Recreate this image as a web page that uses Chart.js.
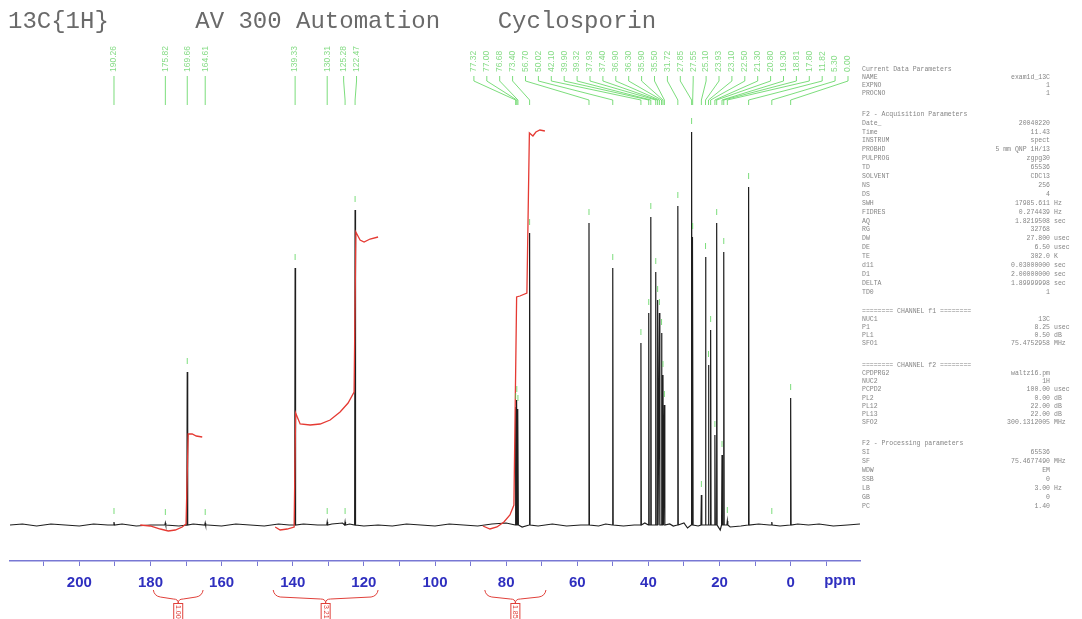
<!DOCTYPE html>
<html>
<head>
<meta charset="utf-8">
<script src="https://cdn.jsdelivr.net/npm/chart.js@4.4.1/dist/chart.umd.min.js"></script>
<style>
html,body{margin:0;padding:0;background:#fff;overflow:hidden}
#wrap{position:relative;width:1082px;height:619px;background:#fff}
</style>
</head>
<body>
<div id="wrap"><canvas id="c" width="1082" height="619"></canvas></div>
<script>
// ---------------- data ----------------
const titleText = '13C{1H}      AV 300 Automation    Cyclosporin';
const tickLabels = [200, 180, 160, 140, 120, 100, 80, 60, 40, 20, 0];

// picked peaks (ppm) and their heights (arbitrary intensity units)
const peakPpm = [190.26, 175.82, 169.66, 164.61, 139.33, 130.31, 125.28, 122.47,
  77.32, 77.00, 76.68, 73.40, 56.70, 50.02, 42.10, 39.90, 39.32, 37.93, 37.40, 36.90,
  36.30, 35.90, 35.50, 31.72, 27.85, 27.55, 25.10, 23.93, 23.10, 22.50, 21.30, 20.80,
  19.30, 18.81, 17.80, 11.82, 5.30, 0.00];
const peakHeight = [3, 2, 153, 2, 257, 3, 3, 315,
  118, 125, 116, 292, 302, 257, 182, 212, 308, 253, 225, 212,
  192, 150, 120, 319, 393, 288, 30, 268, 160, 195, 90, 302,
  70, 273, 4, 338, 3, 127];

// baseline (noise)
const baselinePpm = [219.5, 216, 212, 208, 204, 200, 196, 192, 188, 184, 180, 176, 172, 168, 164, 160,
  156, 152, 148, 144, 141, 137, 133, 129, 126, 124, 120, 116, 112, 108, 104, 100, 96, 92, 88, 84, 80,
  75.5, 71, 67, 63, 59, 54, 52, 47, 44, 41, 34, 33, 30, 29, 26, 25, 19.8, 17, 14, 9, 6, 3, -2, -5, -8,
  -12, -16, -19.5];
const baselineVal = [0, 1, -1, 1, 0, -1, 1, 0, 1, -1, 0, 1, -1, 1, 0, -1,
  1, 0, -1, 1, 0, 1, 0, 1, 2, 1, -1, 0, -1, 1, 0, -1, 1, 0, -1, 1, 2,
  -2, -1, 1, -1, 0, -1, 1, -1, 0, 2, 1, -1, 2, -3, -1, -4, -5, -2, -1, 1, 0, -1, 1, 0, 1,
  -1, 0, 1];

// integral curves
const int1Ppm = [182.87, 180.06, 177.25, 175.0, 173.03, 171.07, 170.0, 169.4, 168.26, 167.13, 165.45];
const int1Val = [0, -1, -4, -6, -5, -2, 1, 91, 91, 89, 88];
const int2Ppm = [144.94, 143.54, 141.57, 139.61, 139.19, 137.92, 135.11, 132.30, 129.49, 126.69, 124.44, 122.75, 122.25, 121.07, 119.94, 118.26, 116.01];
const int2Val = [-2, -5, -4, -2, 112, 101, 100, 101, 105, 113, 122, 133, 293, 285, 283, 286, 288];
const int3Ppm = [86.52, 84.55, 82.58, 80.62, 78.93, 77.81, 77.05, 76.12, 74.16, 73.46, 72.47, 71.63, 70.51, 69.10];
const int3Val = [-1, -4, -2, 3, 10, 20, 228, 229, 232, 392, 389, 393, 395, 394];

// integral brackets (ppm ranges) and values
const bracketFrom = [179.2, 145.5, 86.0];
const bracketTo = [165.2, 116.0, 68.8];
const integralLabels = ['1.00', '3.21', '1.85'];

// acquisition / processing parameter listing
const paramCurrent = [['Current Data Parameters', '', ''], ['NAME', 'exam1d_13C', ''], ['EXPNO', '1', ''], ['PROCNO', '1', '']];
const paramAcq = [['F2 - Acquisition Parameters', '', ''], ['Date_', '20040220', ''], ['Time', '11.43', ''],
  ['INSTRUM', 'spect', ''], ['PROBHD', '5 mm QNP 1H/13', ''], ['PULPROG', 'zgpg30', ''], ['TD', '65536', ''],
  ['SOLVENT', 'CDCl3', ''], ['NS', '256', ''], ['DS', '4', ''], ['SWH', '17985.611', 'Hz'],
  ['FIDRES', '0.274439', 'Hz'], ['AQ', '1.8219508', 'sec'], ['RG', '32768', ''], ['DW', '27.800', 'usec'],
  ['DE', '6.50', 'usec'], ['TE', '302.0', 'K'], ['d11', '0.03000000', 'sec'], ['D1', '2.00000000', 'sec'],
  ['DELTA', '1.89999998', 'sec'], ['TD0', '1', '']];
const paramF1 = [['======== CHANNEL f1 ========', '', ''], ['NUC1', '13C', ''], ['P1', '8.25', 'usec'],
  ['PL1', '0.50', 'dB'], ['SFO1', '75.4752958', 'MHz']];
const paramF2 = [['======== CHANNEL f2 ========', '', ''], ['CPDPRG2', 'waltz16.pm', ''], ['NUC2', '1H', ''],
  ['PCPD2', '100.00', 'usec'], ['PL2', '0.00', 'dB'], ['PL12', '22.00', 'dB'], ['PL13', '22.00', 'dB'],
  ['SFO2', '300.1312005', 'MHz']];
const paramProc = [['F2 - Processing parameters', '', ''], ['SI', '65536', ''], ['SF', '75.4677490', 'MHz'],
  ['WDW', 'EM', ''], ['SSB', '0', ''], ['LB', '3.00', 'Hz'], ['GB', '0', ''], ['PC', '1.40', '']];

// ---------------- build tables ----------------
const spectrum = [];
baselinePpm.forEach((p, i) => {
  if (peakPpm.every(q => Math.abs(q - p) > 0.4)) spectrum.push({x: p, y: baselineVal[i]});
});
peakPpm.forEach((p, i) => {
  spectrum.push({x: p + 0.12, y: 0}, {x: p, y: peakHeight[i]}, {x: p - 0.12, y: 0});
});
spectrum.sort((a, b) => b.x - a.x);
const pairs = (xs, ys) => xs.map((x, i) => ({x: x, y: ys[i]}));

// ---------------- extra drawing ----------------
const extras = {
  id: 'extras',
  afterDraw(chart) {
    const ctx = chart.ctx, xs = chart.scales.x, ys = chart.scales.y, ca = chart.chartArea;
    ctx.save();
    // title
    ctx.font = '24px "Liberation Mono", monospace';
    ctx.fillStyle = '#6a6a6a';
    ctx.textAlign = 'left';
    ctx.textBaseline = 'alphabetic';
    ctx.fillText(titleText, 8, 28);

    // peak labels
    const pk = peakPpm.map((p, i) => ({p: p, h: peakHeight[i], x: xs.getPixelForValue(p)})).sort((a, b) => a.x - b.x);
    const S = 12.9;
    const groups = pk.map(o => ({items: [o]}));
    const place = g => {
      const m = g.items.reduce((s, o) => s + o.x, 0) / g.items.length;
      g.start = m - (g.items.length - 1) * S / 2;
      g.end = g.start + (g.items.length - 1) * S;
    };
    groups.forEach(place);
    let merged = true;
    while (merged) {
      merged = false;
      for (let i = 0; i < groups.length - 1; i++) {
        if (groups[i + 1].start - groups[i].end < S) {
          groups[i].items = groups[i].items.concat(groups[i + 1].items);
          groups.splice(i + 1, 1);
          place(groups[i]);
          merged = true;
          break;
        }
      }
    }
    const last = groups[groups.length - 1];
    const lim = ca.right - 12;
    if (last.end > lim) { const d = last.end - lim; last.start -= d; last.end -= d; }
    groups.forEach(g => g.items.forEach((o, k) => { o.lx = g.start + k * S; }));

    ctx.strokeStyle = 'rgba(80,210,80,0.75)';
    ctx.lineWidth = 1;
    ctx.fillStyle = '#86dc86';
    ctx.font = '8.5px "Liberation Sans", sans-serif';
    pk.forEach(o => {
      ctx.beginPath();
      ctx.moveTo(o.lx, 76);
      ctx.lineTo(o.lx, 81);
      ctx.lineTo(o.x, 100);
      ctx.lineTo(o.x, 105);
      ctx.stroke();
      ctx.save();
      ctx.translate(o.lx, 72);
      ctx.rotate(-Math.PI / 2);
      ctx.textAlign = 'left';
      ctx.textBaseline = 'middle';
      ctx.fillText(o.p.toFixed(2), 0, 0);
      ctx.restore();
      const yt = ys.getPixelForValue(o.h);
      ctx.beginPath();
      ctx.moveTo(o.x, yt - 14);
      ctx.lineTo(o.x, yt - 8);
      ctx.stroke();
    });

    // integral brackets below the axis
    ctx.strokeStyle = '#e0403a';
    ctx.fillStyle = '#e0403a';
    ctx.lineWidth = 1;
    bracketFrom.forEach((f, i) => {
      const x1 = xs.getPixelForValue(f), x2 = xs.getPixelForValue(bracketTo[i]);
      const xm = (x1 + x2) / 2;
      ctx.beginPath();
      ctx.moveTo(x1, 590);
      ctx.quadraticCurveTo(x1 + 1, 596, x1 + 7, 597);
      ctx.lineTo(xm - 5, 599);
      ctx.quadraticCurveTo(xm, 599, xm, 603);
      ctx.quadraticCurveTo(xm, 599, xm + 5, 599);
      ctx.lineTo(x2 - 7, 597);
      ctx.quadraticCurveTo(x2 - 1, 596, x2, 590);
      ctx.stroke();
      ctx.strokeRect(xm - 4.5, 603.5, 9, 20);
      ctx.save();
      ctx.translate(xm, 605);
      ctx.rotate(Math.PI / 2);
      ctx.font = '7px "Liberation Sans", sans-serif';
      ctx.textAlign = 'left';
      ctx.textBaseline = 'middle';
      ctx.fillText(integralLabels[i], 0, 0);
      ctx.restore();
    });

    // ppm unit label
    ctx.fillStyle = '#2f2fbf';
    ctx.font = 'bold 15px "Liberation Sans", sans-serif';
    ctx.textAlign = 'center';
    ctx.textBaseline = 'middle';
    ctx.fillText('ppm', 840, 581);

    // parameter listing
    ctx.fillStyle = '#858585';
    ctx.font = '6.5px "Liberation Mono", monospace';
    ctx.textBaseline = 'middle';
    const sections = [[paramCurrent, 69, 8], [paramAcq, 114, 8.9], [paramF1, 311, 8.1], [paramF2, 365, 8.2], [paramProc, 443, 9]];
    sections.forEach(([rows, y0, step]) => {
      rows.forEach((r, k) => {
        const y = y0 + k * step;
        ctx.textAlign = 'left';
        ctx.fillText(r[0], 862, y);
        if (r[1]) { ctx.textAlign = 'right'; ctx.fillText(r[1], 1050, y); }
        if (r[2]) { ctx.textAlign = 'left'; ctx.fillText(r[2], 1054, y); }
      });
    });
    ctx.restore();
  }
};

new Chart(document.getElementById('c'), {
  type: 'scatter',
  data: {
    datasets: [
      {label: 'spectrum', data: spectrum, showLine: true, borderColor: '#1e1e1e', borderWidth: 1.2, pointRadius: 0, order: 2},
      {label: 'integral 1', data: pairs(int1Ppm, int1Val), showLine: true, borderColor: '#e53a33', borderWidth: 1.3, pointRadius: 0, order: 1},
      {label: 'integral 2', data: pairs(int2Ppm, int2Val), showLine: true, borderColor: '#e53a33', borderWidth: 1.3, pointRadius: 0, order: 1},
      {label: 'integral 3', data: pairs(int3Ppm, int3Val), showLine: true, borderColor: '#e53a33', borderWidth: 1.3, pointRadius: 0, order: 1}
    ]
  },
  options: {
    responsive: false,
    animation: false,
    devicePixelRatio: 1,
    layout: {padding: {left: 10, right: 222, top: 100, bottom: 0}},
    plugins: {legend: {display: false}, tooltip: {enabled: false}, title: {display: false}},
    scales: {
      x: {
        type: 'linear', reverse: true, min: -19.5, max: 219.5,
        afterFit: s => { s.height = 58; },
        border: {display: true, color: '#7878d4', width: 1.5},
        grid: {drawOnChartArea: false, drawTicks: true, tickLength: 5, color: '#7878d4', lineWidth: 1},
        ticks: {
          stepSize: 10, includeBounds: false, autoSkip: false, maxRotation: 0, minRotation: 0, padding: 8,
          color: '#2f2fbf', font: {family: 'Liberation Sans', size: 15, weight: 'bold'},
          callback: v => tickLabels.includes(v) ? String(v) : ''
        }
      },
      y: {display: false, min: -36, max: 425}
    }
  },
  plugins: [extras]
});
</script>
</body>
</html>
